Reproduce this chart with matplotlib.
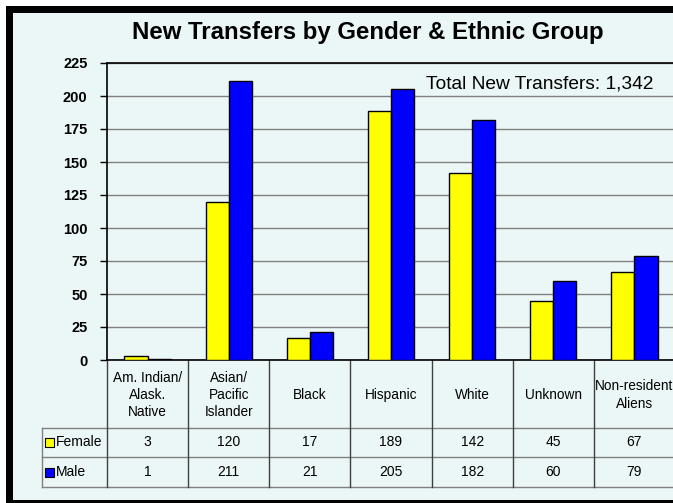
import matplotlib
matplotlib.use('Agg')
import matplotlib.pyplot as plt
import matplotlib.patches as mpatches
from matplotlib.transforms import blended_transform_factory
import numpy as np

# Datos
categorias = ['Am. Indian/\nAlask.\nNative', 'Asian/\nPacific\nIslander', 'Black',
              'Hispanic', 'White', 'Unknown', 'Non-resident\nAliens']
mujeres = [3, 120, 17, 189, 142, 45, 67]
hombres = [1, 211, 21, 205, 182, 60, 79]
series = ['Female', 'Male']
colores = ['#ffff00', '#0000ff']
total = sum(mujeres) + sum(hombres)

W, H = 673, 503
fondo = '#ebf6f6'
fuente = ['Liberation Sans', 'DejaVu Sans']
fuente_tabla = ['Liberation Sans Narrow', 'Liberation Sans', 'DejaVu Sans']

fig = plt.figure(figsize=(W / 100, H / 100), dpi=100, facecolor='white')

# Borde negro y fondo del grafico
fig.patches.append(mpatches.Rectangle((6 / W, 0), 1, 1 - 6 / H, transform=fig.transFigure,
                                      facecolor='black', edgecolor='none', zorder=-2))
fig.patches.append(mpatches.Rectangle((13 / W, 3 / H), 1, 1 - 16 / H, transform=fig.transFigure,
                                      facecolor=fondo, edgecolor='none', zorder=-1))

# Area del grafico (en pixeles: x 107..675, y 63..360)
izq, der, arr, aba = 107, 675, 63, 360
ax = fig.add_axes([izq / W, 1 - aba / H, (der - izq) / W, (aba - arr) / H])
ax.set_facecolor('none')

x = np.arange(len(categorias))
ancho = 0.285
ax.bar(x - ancho / 2, mujeres, ancho, color=colores[0], edgecolor='black', linewidth=1, zorder=3)
ax.bar(x + ancho / 2, hombres, ancho, color=colores[1], edgecolor='black', linewidth=1, zorder=3)

ax.set_xlim(-0.5, len(categorias) - 0.5)
ax.set_ylim(0, 225)
ax.set_yticks(np.arange(0, 226, 25))
ax.set_xticks([])
ax.yaxis.grid(True, color='#808080', linewidth=1)
ax.set_axisbelow(True)
ax.tick_params(axis='y', length=5, width=1, pad=9, labelsize=10.5)
for lab in ax.get_yticklabels():
    lab.set_fontweight('bold')
    lab.set_family(fuente)
for s in ['left', 'top', 'bottom']:
    ax.spines[s].set_color('black')
    ax.spines[s].set_linewidth(1.2)
ax.spines['right'].set_visible(False)

fig.text(653 / W, 1 - 84 / H, 'Total New Transfers: {:,}'.format(total),
         ha='right', va='center', fontsize=13.8, family=fuente)

fig.text(368 / W, 1 - 32 / H, 'New Transfers by Gender & Ethnic Group', ha='center', va='center',
         fontsize=17.3, fontweight='bold', family=fuente)

# Tabla de datos debajo del grafico
tr = blended_transform_factory(ax.transData, ax.transAxes)
alto = aba - arr


def ya(py):
    return (aba - py) / alto


fila_cat, fila_f, fila_m = 428, 457, 487
x_leyenda = -0.5 - (izq - 42) / ((der - izq) / len(categorias))
kw = dict(transform=tr, clip_on=False)
for py in [fila_cat, fila_f, fila_m]:
    ax.plot([x_leyenda, len(categorias) - 0.5], [ya(py), ya(py)], color='#808080', lw=1, **kw)
ax.plot([x_leyenda, x_leyenda], [ya(fila_cat), ya(fila_m)], color='#808080', lw=1, **kw)
for i in range(len(categorias) + 1):
    ax.plot([i - 0.5, i - 0.5], [0, ya(fila_m)], color='#404040', lw=1, **kw)

for i, c in enumerate(categorias):
    ax.text(i, ya((aba + fila_cat) / 2 + 1), c, ha='center', va='center', fontsize=9.8,
            family=fuente_tabla, linespacing=1.3, **kw)
    ax.text(i, ya((fila_cat + fila_f) / 2), str(mujeres[i]), ha='center', va='center',
            fontsize=10, family=fuente_tabla, **kw)
    ax.text(i, ya((fila_f + fila_m) / 2), str(hombres[i]), ha='center', va='center',
            fontsize=10, family=fuente_tabla, **kw)

for j, (nombre, col) in enumerate(zip(series, colores)):
    yc = [(fila_cat + fila_f) / 2, (fila_f + fila_m) / 2][j]
    fig.patches.append(mpatches.Rectangle((45 / W, 1 - (yc + 4.5) / H), 9 / W, 9 / H,
                                          transform=fig.transFigure, facecolor=col,
                                          edgecolor='black', linewidth=0.8))
    fig.text(56 / W, 1 - yc / H, nombre, ha='left', va='center', fontsize=10, family=fuente_tabla)

fig.savefig('out.png', dpi=100, facecolor=fig.get_facecolor())
